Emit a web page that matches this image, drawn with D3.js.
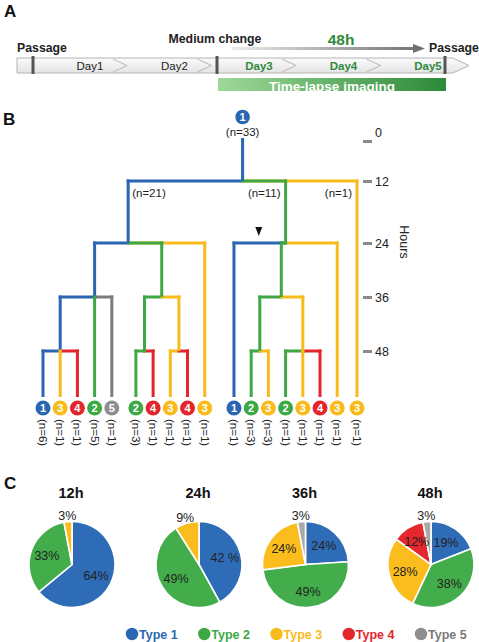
<!DOCTYPE html>
<html><head><meta charset="utf-8">
<script src="https://cdn.jsdelivr.net/npm/d3@7"></script>
<style>body{margin:0;background:#fff} svg{display:block;font-family:"Liberation Sans",Arial,sans-serif}</style>
</head><body><svg id="c" width="479" height="642"></svg>
<script>
// ---------------- data ----------------
const days = ["Day1","Day2","Day3","Day4","Day5"];
const imagedDays = ["Day3","Day4","Day5"];
const eventLabels = ["Passage","Medium change","Passage"];
const eventDays = [0, 2, 5];
const imagingSpan = [2, 5];
const imagingLabel = "Time-lapse imaging";
const durationLabel = "48h";

const typeIds = [1,2,3,4,5];
const typeNames = ["Type 1","Type 2","Type 3","Type 4","Type 5"];
const typeColors = ["#2a66b2","#3ea845","#f8bb1c","#e2262c","#7c7c7c"];
const typeDotColors = ["#2a66b2","#3ea845","#f8bb1c","#e2262c","#8e8e8e"];
const pieColors = ["#2f6cb8","#43ad4b","#fbbd1e","#e5272e","#a9a9a9"];

const hourTicks = [0,12,24,36,48];

const leafTypes  = [1,3,4,2,5, 2,4,3,4,3, 1,2,3,2,3,4,3, 3];
const leafCounts = [6,1,1,5,1, 3,1,1,1,1, 1,3,3,1,1,1,1, 1];
const leafGroups = [0,0,0,0,0, 1,1,1,1,1, 2,2,2,2,2,2,2, 3];

// lineage: internal nodes split at an hour; "over" = children the stem sits between
const lineage = {type:1, split:12, children:[
  {type:1, split:24, over:[0,1], children:[
    {type:1, split:36, over:[1,1], children:[
      {type:1, split:48, children:[{leaf:0},{leaf:1},{leaf:2}]},
      {leaf:3},{leaf:4}]},
    {type:2, split:36, children:[
      {type:2, split:48, children:[{leaf:5},{leaf:6}]},
      {type:3, split:48, children:[{leaf:7},{leaf:8}]}]},
    {leaf:9}]},
  {type:2, split:24, marker:true, children:[
    {leaf:10},
    {type:2, split:36, children:[
      {type:2, split:48, children:[{leaf:11},{leaf:12}]},
      {type:3, split:48, children:[{leaf:13},{leaf:14},{leaf:15}]}]},
    {leaf:16}]},
  {leaf:17}]};

const pieHours = ["12h","24h","36h","48h"];
const pie12h = [64,33,3,0,0];
const pie24h = [42,49,9,0,0];
const pie36h = [24,49,24,0,3];
const pie48h = [19,38,28,12,3];
const pie12hLabels = ["64%","33%","3%","",""];
const pie24hLabels = ["42 %","49%","9%","",""];
const pie36hLabels = ["24%","49%","24%","","3%"];
const pie48hLabels = ["19%","38%","28%","12%","3%"];

// ---------------- drawing ----------------
const svg = d3.select("#c");
const col = t => typeColors[t-1];
const F = "'Liberation Sans',Arial,sans-serif";

// panel letters
[["A",4,17],["B",3,125],["C",4,489]].forEach(([t,x,y]) =>
  svg.append("text").attr("x",x).attr("y",y).attr("font-size",17).attr("font-weight","bold").attr("fill","#111").text(t));

// ---- Panel A ----
const evX = d3.scaleLinear().domain([0,2,5]).range([33,217,445]);
const dayX = d3.scalePoint().domain(days).range([90,428]);
const barTop = 58, barBot = 73, barMid = (barTop+barBot)/2;
const barL = evX(0)-16, barR = evX(5)+8, barTip = evX(5)+24;
const arrY = 48.5, arrX0 = evX(2)+15, arrX1 = evX(5)-20;

const defs = svg.append("defs");
const gBar = defs.append("linearGradient").attr("id","gbar").attr("x1",0).attr("x2",0).attr("y1",0).attr("y2",1);
gBar.append("stop").attr("offset",0).attr("stop-color","#fbfbfb");
gBar.append("stop").attr("offset",1).attr("stop-color","#e4e4e4");
const gArr = defs.append("linearGradient").attr("id","garr").attr("gradientUnits","userSpaceOnUse")
  .attr("x1",arrX0).attr("x2",arrX1).attr("y1",arrY).attr("y2",arrY);
gArr.append("stop").attr("offset",0).attr("stop-color","#ececec");
gArr.append("stop").attr("offset",1).attr("stop-color","#6f6f6f");
const gImg = defs.append("linearGradient").attr("id","gimg");
gImg.append("stop").attr("offset",0).attr("stop-color","#9fd898");
gImg.append("stop").attr("offset",1).attr("stop-color","#2c8a3a");

svg.append("path")
  .attr("d", d3.line()([[barL,barTop],[barR,barTop],[barTip,barMid],[barR,barBot],[barL,barBot]]) + "Z")
  .attr("fill","url(#gbar)").attr("stroke","#b4b4b4").attr("stroke-width",1);

days.slice(0,4).forEach(d => {
  const x0 = dayX(d)+23;
  svg.append("path").attr("d", d3.line()([[x0,barTop+1],[x0+14,barMid],[x0,barBot-1]]))
    .attr("fill","none").attr("stroke","#b8b8b8").attr("stroke-width",1);
});

svg.selectAll(".day").data(days).join("text")
  .attr("x", d => dayX(d)).attr("y", barMid).attr("dy","0.36em")
  .attr("text-anchor","middle").attr("font-size",11.5)
  .attr("font-weight", d => imagedDays.includes(d) ? "bold" : "normal")
  .attr("fill", d => imagedDays.includes(d) ? "#2f8a3c" : "#222")
  .text(d => d);

eventDays.forEach((d,i) => {
  svg.append("line").attr("x1",evX(d)).attr("x2",evX(d)).attr("y1",barTop-2).attr("y2",barBot+1)
    .attr("stroke","#555").attr("stroke-width",3);
  const off = [9,-2,9][i], base = [52,43,52][i];
  svg.append("text").attr("x",evX(d)+off).attr("y",base).attr("text-anchor","middle")
    .attr("font-size",12.3).attr("font-weight","bold").attr("fill","#222").text(eventLabels[i]);
});

// 48h arrow
svg.append("line").attr("x1",arrX0).attr("x2",arrX1-10).attr("y1",arrY).attr("y2",arrY)
  .attr("stroke","url(#garr)").attr("stroke-width",3);
svg.append("path").attr("d", d3.line()([[arrX1-12,arrY-4.5],[arrX1,arrY],[arrX1-12,arrY+4.5]])+"Z").attr("fill","#6f6f6f");
svg.append("text").attr("x",341).attr("y",44.5).attr("text-anchor","middle").attr("font-size",15.5)
  .attr("font-weight","bold").attr("fill","#2f8a3c").text(durationLabel);

// imaging bar
svg.append("rect").attr("x",evX(imagingSpan[0])+1).attr("y",78).attr("width",evX(imagingSpan[1])-evX(imagingSpan[0])).attr("height",13)
  .attr("fill","url(#gimg)");
svg.append("text").attr("x",(evX(imagingSpan[0])+evX(imagingSpan[1]))/2+1).attr("y",90.5).attr("text-anchor","middle")
  .attr("font-size",13.5).attr("font-weight","bold").attr("fill","#fff").text(imagingLabel);

// ---- Panel B ----
const Y = d3.scaleLinear().domain([0,12,24,36,48]).range([141,181,243,297,351]);
const groupGap = [0,0.4,1.1,1.25];
const slot = i => i + groupGap[leafGroups[i]];
const xLeaf = d3.scaleLinear().domain([0, slot(leafTypes.length-1)]).range([43,357]);
const leafY = 408, lineEnd = 397, LW = 3;

const root = d3.hierarchy(lineage);
root.eachAfter(n => {
  const d = n.data;
  if (d.leaf !== undefined) {
    n.x = xLeaf(slot(d.leaf)); n.type = leafTypes[d.leaf]; n.count = leafCounts[d.leaf];
  } else {
    const ov = d.over || [0, n.children.length-1];
    n.x = (n.children[ov[0]].x + n.children[ov[1]].x)/2;
    n.type = d.type; n.count = d3.sum(n.children, c => c.count);
  }
});

const hSeg = [], vSeg = [];
root.each(n => {
  if (!n.children) return;
  const y = Y(n.data.split);
  const kids = n.children.slice().sort((a,b) => Math.abs(b.x-n.x) - Math.abs(a.x-n.x));
  kids.forEach(c => hSeg.push({x1:n.x, x2:c.x, y, type:c.type}));
  n.children.forEach(c => vSeg.push({x:c.x, y1:y-LW/2, y2: c.children ? Y(c.data.split) : lineEnd, type:c.type}));
});
vSeg.push({x:root.x, y1:Y(0)-3, y2:Y(12), type:root.type});

const gTree = svg.append("g");
gTree.selectAll(".h").data(hSeg).join("line")
  .attr("x1",d=>d.x1).attr("x2",d=>d.x2).attr("y1",d=>d.y).attr("y2",d=>d.y)
  .attr("stroke",d=>col(d.type)).attr("stroke-width",LW).attr("stroke-linecap","square");
gTree.selectAll(".v").data(vSeg).join("line")
  .attr("x1",d=>d.x).attr("x2",d=>d.x).attr("y1",d=>d.y1).attr("y2",d=>d.y2)
  .attr("stroke",d=>col(d.type)).attr("stroke-width",LW);

function dot(g, x, y, t, r) {
  g.append("circle").attr("cx",x).attr("cy",y).attr("r",r).attr("fill",typeDotColors[t-1]);
  g.append("text").attr("x",x).attr("y",y).attr("dy","0.36em").attr("text-anchor","middle")
    .attr("font-size",11).attr("font-weight","bold").attr("fill","#fff").text(t);
}
dot(svg, root.x, 117, root.type, 7.3);
svg.append("text").attr("x",root.x).attr("y",135.5).attr("text-anchor","middle").attr("font-size",11.5).attr("fill","#222")
  .text(`(n=${root.count})`);

root.children.forEach((c,i) => {
  svg.append("text").attr("x", i===0 ? c.x+4 : c.x-5).attr("y", Y(12)+15.5)
    .attr("text-anchor", i===0 ? "start" : "end").attr("font-size",11.5).attr("fill","#222")
    .text(`(n=${c.count})`);
});

root.each(n => {
  if (!n.data.marker) return;
  const mx = (n.children[0].x + n.x)/2 - 1, my = Y(n.data.split) - 7;
  svg.append("path").attr("d", d3.line()([[mx-3.5,my-9],[mx+3.5,my-9],[mx,my]])+"Z").attr("fill","#111");
});

const leaves = root.leaves();
leaves.forEach(l => dot(svg, l.x, leafY, l.type, 7.5));
svg.selectAll(".nl").data(leaves).join("text")
  .attr("transform", d => `translate(${d.x},${leafY+11}) rotate(90)`)
  .attr("dy","0.35em").attr("font-size",11.5).attr("fill","#222")
  .text(d => `(n=${d.count})`);

const ax = svg.append("g").attr("transform","translate(363,0)")
  .call(d3.axisRight(Y).tickValues(hourTicks).tickSize(9).tickPadding(3));
ax.select(".domain").remove();
ax.selectAll(".tick line").attr("stroke","#8a8a8a").attr("stroke-width",3);
ax.selectAll(".tick text").attr("font-size",12.5).attr("fill","#222").attr("font-family",F);
ax.selectAll(".tick").filter(d => d===0).select("text").attr("transform","translate(0,-9)");
svg.append("text").attr("transform","translate(404,242) rotate(90)").attr("text-anchor","middle").attr("dy","0.35em")
  .attr("font-size",12.5).attr("fill","#222").text("Hours");

// ---- Panel C ----
const pieData = [pie12h, pie24h, pie36h, pie48h];
const pieLabels = [pie12hLabels, pie24hLabels, pie36hLabels, pie48hLabels];
const pieX = d3.scaleOrdinal().domain(pieHours).range([72,199,305.5,431]);
const pieY = 564.5, R = 43;
const pie = d3.pie().sort(null).value(d => d);
const arc = d3.arc().innerRadius(0).outerRadius(R);

pieHours.forEach((h, k) => {
  const g = svg.append("g").attr("transform", `translate(${pieX(h)},${pieY})`);
  svg.append("text").attr("x", pieX(h) - 1).attr("y", 498).attr("text-anchor","middle")
    .attr("font-size",14.5).attr("font-weight","bold").attr("fill","#111").text(h);
  const arcs = pie(pieData[k]).filter(a => a.value > 0);
  g.selectAll("path").data(arcs).join("path").attr("d", arc)
    .attr("fill", a => pieColors[a.index]).attr("stroke","#fff").attr("stroke-width",1.6);
  g.selectAll("text").data(arcs).join("text")
    .attr("transform", a => {
      const rr = a.value < 10 ? R*1.15 : R*0.62;
      const c = d3.arc().innerRadius(rr).outerRadius(rr).centroid(a);
      return `translate(${c[0]},${c[1]})`;
    })
    .attr("dy","0.36em").attr("text-anchor","middle").attr("font-size",12.5).attr("fill","#222")
    .text(a => pieLabels[k][a.index]);
});

const legX = d3.scalePoint().domain(typeIds).range([132,421]);
typeIds.forEach((t,i) => {
  svg.append("circle").attr("cx",legX(t)).attr("cy",634).attr("r",6.2).attr("fill",typeDotColors[i]);
  svg.append("text").attr("x",legX(t)+7).attr("y",634).attr("dy","0.36em").attr("font-size",12.5)
    .attr("font-weight","bold").attr("fill", i===4 ? "#7a7a7a" : typeColors[i]).text(typeNames[i]);
});
</script></body></html>
